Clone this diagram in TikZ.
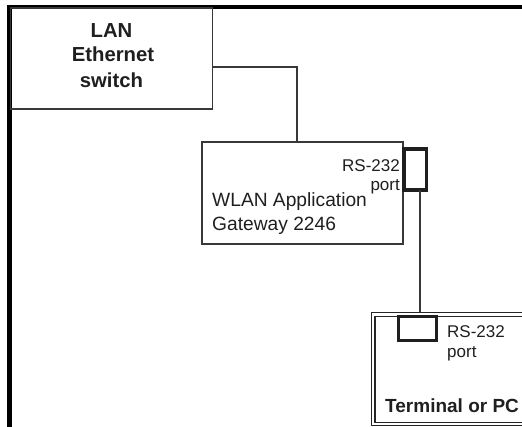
\documentclass[tikz,border=0pt]{standalone}
\usepackage{fontspec}
\setmainfont{Liberation Sans}
\begin{document}
\begin{tikzpicture}[x=1pt,y=-1pt,
  thinline/.style={draw=black!78,line width=1.3pt},
  box/.style={thinline,rectangle,inner sep=0pt,outer sep=0pt},
  portbox/.style={draw=black!88,line width=3.4pt,rectangle,inner sep=0pt,outer sep=0pt},
  lbl/.style={inner sep=0pt,text=black!88,font=\fontsize{17}{20}\selectfont},
  blbl/.style={inner sep=0pt,text=black!88,font=\bfseries\fontsize{19}{23}\selectfont},
  lanlbl/.style={inner sep=0pt,text=black!88,font=\bfseries\fontsize{20.3}{24}\selectfont},
  wlbl/.style={inner sep=0pt,text=black!88,font=\fontsize{19.2}{23}\selectfont}]
\useasboundingbox (0,0) rectangle (522,426);
\clip (0,0) rectangle (522,426);
% outer frame
\draw[line width=4.6pt,line join=miter] (9.5,440) -- (9.5,6.8) -- (540,6.8);
% LAN switch
\node[box,minimum width=202pt,minimum height=101pt] (lan) at (111.5,58.5) {};
\node[lanlbl,anchor=base] (lan1) at (111.5,37.7) {LAN};
\node[lanlbl,anchor=base] (lan2) at (113,61.2) {Ethernet};
\node[lanlbl,anchor=base] (lan3) at (111.5,87) {switch};
% WLAN gateway
\node[box,minimum width=201pt,minimum height=102pt] (wlan) at (302.5,193) {};
\node[wlbl,anchor=base west] (w1) at (212,206.5) {WLAN Application};
\node[wlbl,anchor=base west] (w2) at (212,230) {Gateway 2246};
\node[portbox,minimum width=22.5pt,minimum height=41pt] (wport) at (415.3,169.5) {};
\node[lbl,anchor=base east] (wp1) at (400,171) {RS-232};
\node[lbl,anchor=base east] (wp2) at (400,190) {port};
% connectors
\draw[thinline] ([yshift=-8.5pt]lan.east) -| ([xshift=-5.5pt]wlan.north);
\draw[thinline] ([xshift=4.7pt]wport.south) -- ([xshift=4.7pt]wport.south |- 0,313) coordinate (tjoin);
% terminal
\node[draw=black!85,line width=1.1pt,double=white,double distance=2.4pt,rectangle,inner sep=0pt,
  minimum width=170pt,minimum height=109.5pt,anchor=north west] (term) at (372.7,314) {};
\node[portbox,minimum width=38pt,minimum height=24.5pt] (tport) at (417.5,328.5) {};
\node[lbl,anchor=base west] (tp1) at (447,337) {RS-232};
\node[lbl,anchor=base west] (tp2) at (447,357) {port};
\node[blbl,anchor=base west] (tname) at (385,412) {Terminal or PC};
\end{tikzpicture}
\end{document}
